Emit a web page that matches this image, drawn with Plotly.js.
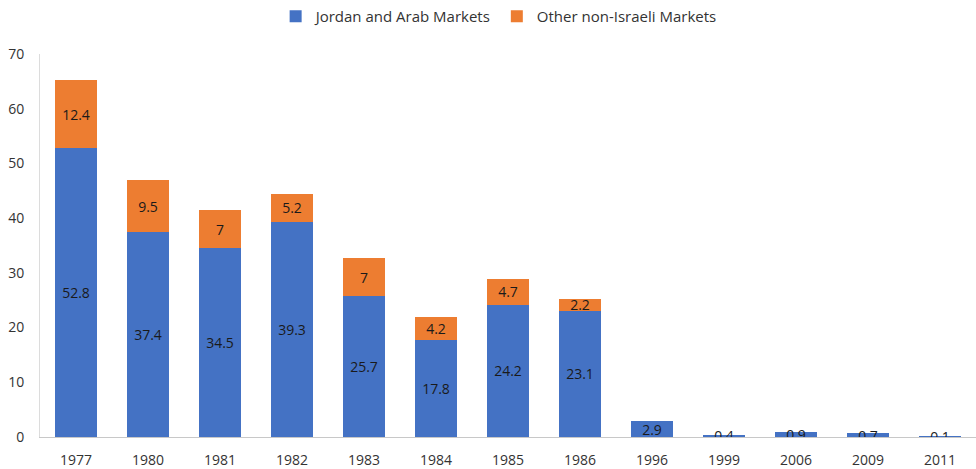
<!DOCTYPE html>
<html>
<head>
<meta charset="utf-8">
<script src="https://cdn.plot.ly/plotly-3.0.1.min.js"></script>
<style>html,body{margin:0;padding:0;background:#fff;}#chart{width:976px;height:469px;}</style>
</head>
<body>
<div id="chart"></div>
<script>
const years = ["1977","1980","1981","1982","1983","1984","1985","1986","1996","1999","2006","2009","2011"];
const jordanArab = [52.8,37.4,34.5,39.3,25.7,17.8,24.2,23.1,2.9,0.4,0.9,0.7,0.1];
const otherNonIsraeli = [12.4,9.5,7,5.2,7,4.2,4.7,2.2,null,null,null,null,null];
const seriesNames = ["Jordan and Arab Markets","Other non-Israeli Markets"];

const common = {
  type: 'bar',
  x: years,
  textposition: 'inside',
  insidetextanchor: 'middle',
  constraintext: 'none',
  textangle: 0,
  textfont: {family: '"Open Sans", sans-serif', size: 14, color: '#1a1a1a'},
  hoverinfo: 'skip'
};
const traces = [
  Object.assign({}, common, {name: seriesNames[0], y: jordanArab, text: jordanArab.map(String), marker: {color: '#4472C4'}}),
  Object.assign({}, common, {name: seriesNames[1], y: otherNonIsraeli, text: otherNonIsraeli.map(v => v == null ? '' : String(v)), marker: {color: '#ED7D31'}})
];
const layout = {
  width: 976, height: 469,
  margin: {l: 40, r: 0, t: 54, b: 32},
  barmode: 'stack',
  bargap: 0.42,
  paper_bgcolor: '#fff', plot_bgcolor: '#fff',
  font: {family: '"Open Sans", sans-serif', size: 14, color: '#333333'},
  showlegend: true,
  legend: {orientation: 'h', x: 0.49, xanchor: 'center', y: 1.0, yref: 'container', yanchor: 'top', font: {size: 15, color: '#333333'}, itemwidth: 30, traceorder: 'normal'},
  xaxis: {type: 'category', showgrid: false, showline: true, linecolor: '#c8c8c8', linewidth: 1, ticks: '', tickfont: {size: 14, color: '#333333'}, ticklabelstandoff: 10, fixedrange: true},
  yaxis: {range: [0, 70], dtick: 10, showgrid: false, zeroline: false, showline: true, linecolor: '#dcdcdc', ticks: '', tickfont: {size: 14, color: '#333333'}, ticklabelstandoff: 12}
};
Plotly.newPlot('chart', traces, layout, {displayModeBar: false, staticPlot: true});
</script>
</body>
</html>
